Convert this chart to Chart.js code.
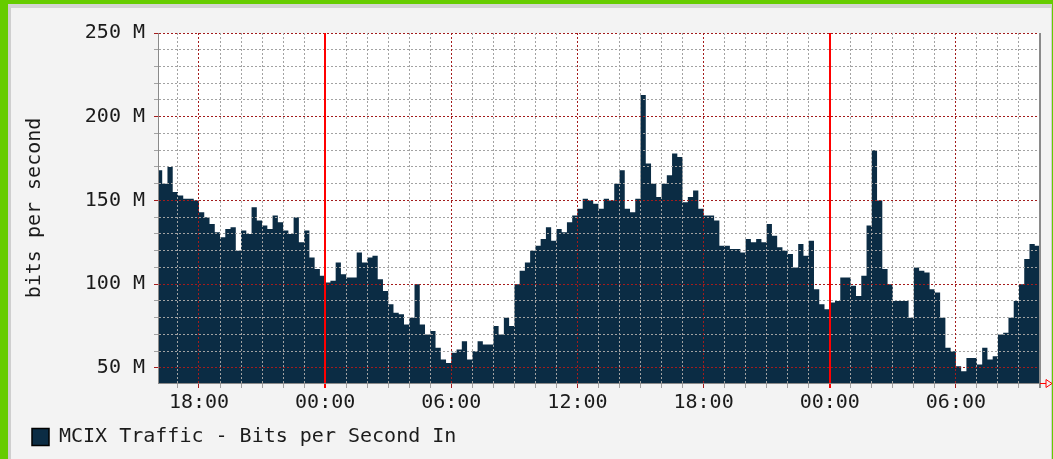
<!DOCTYPE html>
<html>
<head>
<meta charset="utf-8">
<script src="https://cdn.jsdelivr.net/npm/chart.js@4/dist/chart.umd.min.js"></script>
<style>
  body { margin: 0; width: 1053px; height: 459px; background: #66cc00; overflow: hidden; position: relative; }
  #panel { position: absolute; left: 8px; top: 4px; right: 1px; bottom: 0; background: #f3f3f3;
           border-left: 3px solid #cfcfcf; border-top: 4px solid #d4d4d4; border-right: 1px solid #cfcfcf; }
  #traffic { position: absolute; left: 0; top: 0; }
</style>
</head>
<body>
<div id="panel"></div>
<canvas id="traffic" width="1053" height="459"></canvas>
<script>
// hours counted from the first 18:00 on the graph
var startHour = -2;
var sampleHours = 0.25;
var xMin = -1.95, xMax = 40;
var yMin = 41, yMax = 250;

// Mbit/s, one value per 15 minutes
var bitsIn = [
  168,160,170,155,153,151,151,150,143,140,136,131,128,133,134,120,132,130,146,138,135,133,141,137,132,130,140,125,
  132,116,109,105,101,102,113,106,104,104,119,113,116,117,103,96,88,83,82,76,80,100,76,70,72,62,55,53,
  59,61,66,55,60,66,64,64,75,70,80,75,100,108,113,120,123,127,134,126,133,131,137,141,145,151,150,
  148,145,151,150,160,168,145,143,151,213,172,160,152,160,165,178,176,149,152,156,145,141,141,138,123,123,121,
  121,119,127,125,127,125,136,129,122,120,118,110,124,117,126,97,88,85,89,90,104,104,99,93,105,135,180,150,
  109,100,90,90,90,80,110,108,107,97,95,80,62,60,51,48,56,56,52,62,55,57,70,71,80,90,100,115,124,123
];

var xTickLabels = ['18:00', '00:00', '06:00', '12:00', '18:00', '00:00', '06:00'];
var midnights = [6, 30];
var yTickValues = [50, 100, 150, 200, 250];
var yTickLabels = ['50 M', '100 M', '150 M', '200 M', '250 M'];
var seriesName = 'MCIX Traffic - Bits per Second In';

var navy = '#0b2c44';
var minorGrid = '#a2a2a2';
var majorGrid = '#a31c1c';
var dots = [2, 2];

var points = bitsIn.map(function(v, i) { return { x: startHour + i * sampleHours, y: v }; });
points.push({ x: startHour + bitsIn.length * sampleHours, y: bitsIn[bitsIn.length - 1] });

Chart.defaults.font.family = "'DejaVu Sans Mono', monospace";
Chart.defaults.font.size = 20;
Chart.defaults.color = '#1b1b1b';

var plotBackground = {
  id: 'plotBackground',
  beforeDraw: function(chart) {
    var a = chart.chartArea, c = chart.ctx;
    c.save();
    c.fillStyle = '#ffffff';
    c.fillRect(a.left, a.top, a.right - a.left, a.bottom - a.top);
    c.restore();
  },
  afterDraw: function(chart) {
    // small red arrow at the end of the time axis
    var a = chart.chartArea, c = chart.ctx;
    var y = Math.round(a.bottom) + 0.5, x = Math.round(a.right);
    c.save();
    c.strokeStyle = '#ff0000';
    c.lineWidth = 1;
    c.beginPath();
    c.moveTo(x, y); c.lineTo(x + 6, y);
    c.moveTo(x + 6, y - 4); c.lineTo(x + 12, y); c.lineTo(x + 6, y + 4); c.closePath();
    c.stroke();
    c.restore();
  }
};

function isMidnight(v) { return midnights.indexOf(v) >= 0; }

new Chart(document.getElementById('traffic'), {
  type: 'line',
  data: {
    datasets: [{
      label: seriesName,
      data: points,
      stepped: true,
      fill: 'start',
      backgroundColor: navy,
      borderColor: navy,
      borderWidth: 0,
      pointRadius: 0
    }]
  },
  options: {
    responsive: false,
    devicePixelRatio: 1,
    animation: false,
    layout: { padding: { left: 18, right: 13, top: 33, bottom: 2 } },
    plugins: {
      tooltip: { enabled: false },
      legend: {
        position: 'bottom',
        align: 'start',
        labels: {
          boxWidth: 17,
          boxHeight: 17,
          padding: 14,
          generateLabels: function(chart) {
            return Chart.defaults.plugins.legend.labels.generateLabels(chart).map(function(l) {
              l.strokeStyle = '#000';
              l.lineWidth = 1.5;
              return l;
            });
          }
        }
      }
    },
    scales: {
      x: {
        type: 'linear',
        min: xMin,
        max: xMax,
        afterBuildTicks: function(scale) {
          var t = [];
          for (var h = Math.ceil(xMin); h <= xMax; h++) t.push({ value: h });
          scale.ticks = t;
        },
        afterFit: function(scale) { scale.height = 30; },
        ticks: {
          autoSkip: false,
          maxRotation: 0,
          padding: 3,
          callback: function(v) { return v % 6 === 0 ? xTickLabels[v / 6] : ''; }
        },
        grid: {
          z: 2,
          tickLength: 5,
          color: function(c) {
            var v = c.tick.value;
            if (isMidnight(v)) return '#ff0000';
            if (v === xMax) return '#8a8a8a';
            return v % 6 === 0 ? majorGrid : minorGrid;
          },
          lineWidth: function(c) {
            var v = c.tick.value;
            return (isMidnight(v) || v === xMax) ? 2 : 1;
          }
        },
        border: {
          z: 2,
          color: '#8a8a8a',
          dash: function(c) {
            if (c.type !== 'tick') return [];
            var v = c.tick.value;
            return (isMidnight(v) || v === xMax) ? [] : dots;
          }
        }
      },
      y: {
        min: yMin,
        max: yMax,
        afterBuildTicks: function(scale) {
          var t = [];
          for (var m = yTickValues[0]; m <= yMax; m += 10) t.push({ value: m });
          scale.ticks = t;
        },
        afterFit: function(scale) { scale.width = 140; },
        ticks: {
          autoSkip: false,
          padding: 9,
          callback: function(v) {
            var k = yTickValues.indexOf(v);
            return k >= 0 ? yTickLabels[k] : '';
          }
        },
        title: {
          display: true,
          text: 'bits per second',
          padding: { top: 5, bottom: 0 }
        },
        grid: {
          z: 1,
          tickLength: 4,
          color: function(c) { return c.tick.value % 50 === 0 ? majorGrid : minorGrid; }
        },
        border: {
          z: 2,
          color: '#8a8a8a',
          dash: function(c) { return c.type === 'tick' ? dots : []; }
        }
      }
    }
  },
  plugins: [plotBackground]
});
</script>
</body>
</html>
